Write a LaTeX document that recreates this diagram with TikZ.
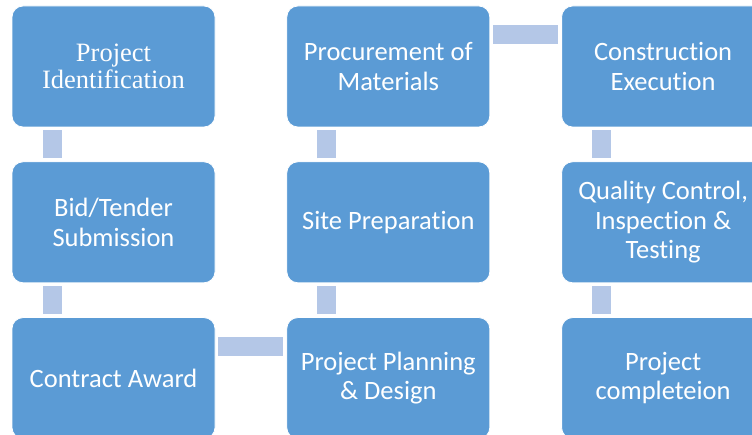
\documentclass[tikz,border=0pt]{standalone}
\usepackage{fontspec}
\setmainfont{Carlito}[Ligatures=NoCommon]
\newfontfamily\timesfont{Liberation Serif}
\usetikzlibrary{positioning}

\definecolor{stepblue}{HTML}{5B9BD5}
\definecolor{linkblue}{HTML}{B4C7E7}

\begin{document}
\begin{tikzpicture}[x=1pt, y=-1pt, node distance=34pt and 71pt,
    stage/.style={draw=white, line width=0.8pt, fill=stepblue, text=white, rounded corners=11pt,
        minimum width=203pt, minimum height=121pt, align=center,
        font=\fontsize{26.5}{29.5}\selectfont},
    link/.style={draw=linkblue, line width=19pt}]

        \useasboundingbox (0,0) rectangle (752,435);

        % first column
        \node [stage, font=\timesfont\fontsize{26.5}{27}\selectfont] (ident) at (113.5,66.5) {Project\\Identification};
        \node [stage, below=of ident] (bid) {Bid/Tender\\Submission};
        \node [stage, below=of bid] (award) {Contract Award};

        % second column
        \node [stage, right=of award] (plan) {Project Planning\\\& Design};
        \node [stage, above=of plan] (site) {Site Preparation};
        \node [stage, above=of site] (procure) {Procurement of\\Materials};

        % third column
        \node [stage, right=of procure] (build) {Construction\\Execution};
        \node [stage, below=of build] (quality) {Quality Control,\\Inspection \&\\Testing};
        \node [stage, below=of quality] (finish) {Project\\completeion};

        % links
        \draw [link] ([xshift=40.5pt, yshift=-3pt]ident.south west) -- ([xshift=40.5pt, yshift=3pt]bid.north west);
        \draw [link] ([xshift=40.5pt, yshift=-3pt]bid.south west) -- ([xshift=40.5pt, yshift=3pt]award.north west);
        \draw [link] ([xshift=3pt, yshift=-29pt]award.north east) -- ([xshift=-3pt, yshift=-29pt]plan.north west);
        \draw [link] ([xshift=40.5pt, yshift=3pt]plan.north west) -- ([xshift=40.5pt, yshift=-3pt]site.south west);
        \draw [link] ([xshift=40.5pt, yshift=3pt]site.north west) -- ([xshift=40.5pt, yshift=-3pt]procure.south west);
        \draw [link] ([xshift=3pt, yshift=-29pt]procure.north east) -- ([xshift=-3pt, yshift=-29pt]build.north west);
        \draw [link] ([xshift=40.5pt, yshift=-3pt]build.south west) -- ([xshift=40.5pt, yshift=3pt]quality.north west);
        \draw [link] ([xshift=40.5pt, yshift=-3pt]quality.south west) -- ([xshift=40.5pt, yshift=3pt]finish.north west);

    \end{tikzpicture}
\end{document}
